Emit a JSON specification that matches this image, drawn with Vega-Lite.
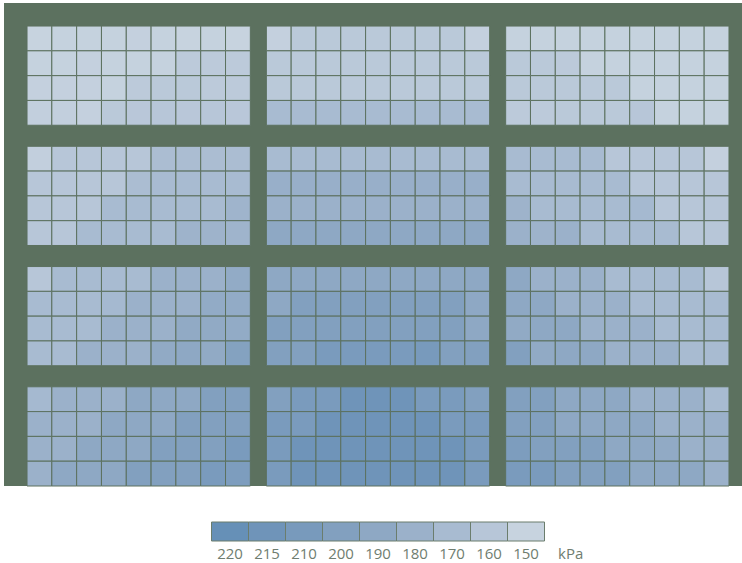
{
  "$schema": "https://vega.github.io/schema/vega-lite/v6.json",
  "padding": {"left": 4, "top": 3, "right": 0, "bottom": 0},
  "background": "white",
  "spacing": 36,
  "center": true,
  "bounds": "flush",
  "config": {"view": {"stroke": null}, "font": "Open Sans"},
  "datasets": {
    "cells": [
      {"R":1,"C":1,"r":1,"c":1,"v":150},{"R":1,"C":1,"r":1,"c":2,"v":151},{"R":1,"C":1,"r":1,"c":3,"v":151},{"R":1,"C":1,"r":1,"c":4,"v":151},{"R":1,"C":1,"r":1,"c":5,"v":152},{"R":1,"C":1,"r":1,"c":6,"v":151},{"R":1,"C":1,"r":1,"c":7,"v":150},{"R":1,"C":1,"r":1,"c":8,"v":151},{"R":1,"C":1,"r":1,"c":9,"v":150},
      {"R":1,"C":1,"r":2,"c":1,"v":151},{"R":1,"C":1,"r":2,"c":2,"v":151},{"R":1,"C":1,"r":2,"c":3,"v":152},{"R":1,"C":1,"r":2,"c":4,"v":151},{"R":1,"C":1,"r":2,"c":5,"v":151},{"R":1,"C":1,"r":2,"c":6,"v":151},{"R":1,"C":1,"r":2,"c":7,"v":157},{"R":1,"C":1,"r":2,"c":8,"v":157},{"R":1,"C":1,"r":2,"c":9,"v":157},
      {"R":1,"C":1,"r":3,"c":1,"v":152},{"R":1,"C":1,"r":3,"c":2,"v":152},{"R":1,"C":1,"r":3,"c":3,"v":152},{"R":1,"C":1,"r":3,"c":4,"v":151},{"R":1,"C":1,"r":3,"c":5,"v":157},{"R":1,"C":1,"r":3,"c":6,"v":158},{"R":1,"C":1,"r":3,"c":7,"v":158},{"R":1,"C":1,"r":3,"c":8,"v":157},{"R":1,"C":1,"r":3,"c":9,"v":157},
      {"R":1,"C":1,"r":4,"c":1,"v":153},{"R":1,"C":1,"r":4,"c":2,"v":153},{"R":1,"C":1,"r":4,"c":3,"v":152},{"R":1,"C":1,"r":4,"c":4,"v":158},{"R":1,"C":1,"r":4,"c":5,"v":159},{"R":1,"C":1,"r":4,"c":6,"v":160},{"R":1,"C":1,"r":4,"c":7,"v":159},{"R":1,"C":1,"r":4,"c":8,"v":160},{"R":1,"C":1,"r":4,"c":9,"v":159},

      {"R":1,"C":2,"r":1,"c":1,"v":152},{"R":1,"C":2,"r":1,"c":2,"v":158},{"R":1,"C":2,"r":1,"c":3,"v":158},{"R":1,"C":2,"r":1,"c":4,"v":158},{"R":1,"C":2,"r":1,"c":5,"v":158},{"R":1,"C":2,"r":1,"c":6,"v":158},{"R":1,"C":2,"r":1,"c":7,"v":158},{"R":1,"C":2,"r":1,"c":8,"v":158},{"R":1,"C":2,"r":1,"c":9,"v":152},
      {"R":1,"C":2,"r":2,"c":1,"v":158},{"R":1,"C":2,"r":2,"c":2,"v":158},{"R":1,"C":2,"r":2,"c":3,"v":158},{"R":1,"C":2,"r":2,"c":4,"v":158},{"R":1,"C":2,"r":2,"c":5,"v":158},{"R":1,"C":2,"r":2,"c":6,"v":158},{"R":1,"C":2,"r":2,"c":7,"v":158},{"R":1,"C":2,"r":2,"c":8,"v":158},{"R":1,"C":2,"r":2,"c":9,"v":158},
      {"R":1,"C":2,"r":3,"c":1,"v":158},{"R":1,"C":2,"r":3,"c":2,"v":158},{"R":1,"C":2,"r":3,"c":3,"v":158},{"R":1,"C":2,"r":3,"c":4,"v":158},{"R":1,"C":2,"r":3,"c":5,"v":158},{"R":1,"C":2,"r":3,"c":6,"v":158},{"R":1,"C":2,"r":3,"c":7,"v":158},{"R":1,"C":2,"r":3,"c":8,"v":158},{"R":1,"C":2,"r":3,"c":9,"v":158},
      {"R":1,"C":2,"r":4,"c":1,"v":170},{"R":1,"C":2,"r":4,"c":2,"v":170},{"R":1,"C":2,"r":4,"c":3,"v":170},{"R":1,"C":2,"r":4,"c":4,"v":170},{"R":1,"C":2,"r":4,"c":5,"v":170},{"R":1,"C":2,"r":4,"c":6,"v":170},{"R":1,"C":2,"r":4,"c":7,"v":170},{"R":1,"C":2,"r":4,"c":8,"v":170},{"R":1,"C":2,"r":4,"c":9,"v":170},

      {"R":1,"C":3,"r":1,"c":1,"v":151},{"R":1,"C":3,"r":1,"c":2,"v":151},{"R":1,"C":3,"r":1,"c":3,"v":151},{"R":1,"C":3,"r":1,"c":4,"v":151},{"R":1,"C":3,"r":1,"c":5,"v":151},{"R":1,"C":3,"r":1,"c":6,"v":151},{"R":1,"C":3,"r":1,"c":7,"v":151},{"R":1,"C":3,"r":1,"c":8,"v":151},{"R":1,"C":3,"r":1,"c":9,"v":151},
      {"R":1,"C":3,"r":2,"c":1,"v":158},{"R":1,"C":3,"r":2,"c":2,"v":158},{"R":1,"C":3,"r":2,"c":3,"v":157},{"R":1,"C":3,"r":2,"c":4,"v":151},{"R":1,"C":3,"r":2,"c":5,"v":151},{"R":1,"C":3,"r":2,"c":6,"v":151},{"R":1,"C":3,"r":2,"c":7,"v":151},{"R":1,"C":3,"r":2,"c":8,"v":151},{"R":1,"C":3,"r":2,"c":9,"v":151},
      {"R":1,"C":3,"r":3,"c":1,"v":158},{"R":1,"C":3,"r":3,"c":2,"v":158},{"R":1,"C":3,"r":3,"c":3,"v":158},{"R":1,"C":3,"r":3,"c":4,"v":158},{"R":1,"C":3,"r":3,"c":5,"v":158},{"R":1,"C":3,"r":3,"c":6,"v":151},{"R":1,"C":3,"r":3,"c":7,"v":151},{"R":1,"C":3,"r":3,"c":8,"v":151},{"R":1,"C":3,"r":3,"c":9,"v":151},
      {"R":1,"C":3,"r":4,"c":1,"v":157},{"R":1,"C":3,"r":4,"c":2,"v":157},{"R":1,"C":3,"r":4,"c":3,"v":158},{"R":1,"C":3,"r":4,"c":4,"v":158},{"R":1,"C":3,"r":4,"c":5,"v":158},{"R":1,"C":3,"r":4,"c":6,"v":160},{"R":1,"C":3,"r":4,"c":7,"v":151},{"R":1,"C":3,"r":4,"c":8,"v":151},{"R":1,"C":3,"r":4,"c":9,"v":151},

      {"R":2,"C":1,"r":1,"c":1,"v":153},{"R":2,"C":1,"r":1,"c":2,"v":160},{"R":2,"C":1,"r":1,"c":3,"v":160},{"R":2,"C":1,"r":1,"c":4,"v":160},{"R":2,"C":1,"r":1,"c":5,"v":160},{"R":2,"C":1,"r":1,"c":6,"v":168},{"R":2,"C":1,"r":1,"c":7,"v":168},{"R":2,"C":1,"r":1,"c":8,"v":168},{"R":2,"C":1,"r":1,"c":9,"v":168},
      {"R":2,"C":1,"r":2,"c":1,"v":160},{"R":2,"C":1,"r":2,"c":2,"v":160},{"R":2,"C":1,"r":2,"c":3,"v":160},{"R":2,"C":1,"r":2,"c":4,"v":160},{"R":2,"C":1,"r":2,"c":5,"v":168},{"R":2,"C":1,"r":2,"c":6,"v":170},{"R":2,"C":1,"r":2,"c":7,"v":170},{"R":2,"C":1,"r":2,"c":8,"v":170},{"R":2,"C":1,"r":2,"c":9,"v":170},
      {"R":2,"C":1,"r":3,"c":1,"v":160},{"R":2,"C":1,"r":3,"c":2,"v":160},{"R":2,"C":1,"r":3,"c":3,"v":160},{"R":2,"C":1,"r":3,"c":4,"v":170},{"R":2,"C":1,"r":3,"c":5,"v":170},{"R":2,"C":1,"r":3,"c":6,"v":170},{"R":2,"C":1,"r":3,"c":7,"v":170},{"R":2,"C":1,"r":3,"c":8,"v":170},{"R":2,"C":1,"r":3,"c":9,"v":177},
      {"R":2,"C":1,"r":4,"c":1,"v":160},{"R":2,"C":1,"r":4,"c":2,"v":160},{"R":2,"C":1,"r":4,"c":3,"v":170},{"R":2,"C":1,"r":4,"c":4,"v":170},{"R":2,"C":1,"r":4,"c":5,"v":170},{"R":2,"C":1,"r":4,"c":6,"v":170},{"R":2,"C":1,"r":4,"c":7,"v":178},{"R":2,"C":1,"r":4,"c":8,"v":178},{"R":2,"C":1,"r":4,"c":9,"v":177},

      {"R":2,"C":2,"r":1,"c":1,"v":170},{"R":2,"C":2,"r":1,"c":2,"v":170},{"R":2,"C":2,"r":1,"c":3,"v":170},{"R":2,"C":2,"r":1,"c":4,"v":170},{"R":2,"C":2,"r":1,"c":5,"v":170},{"R":2,"C":2,"r":1,"c":6,"v":170},{"R":2,"C":2,"r":1,"c":7,"v":170},{"R":2,"C":2,"r":1,"c":8,"v":170},{"R":2,"C":2,"r":1,"c":9,"v":170},
      {"R":2,"C":2,"r":2,"c":1,"v":182},{"R":2,"C":2,"r":2,"c":2,"v":182},{"R":2,"C":2,"r":2,"c":3,"v":182},{"R":2,"C":2,"r":2,"c":4,"v":182},{"R":2,"C":2,"r":2,"c":5,"v":182},{"R":2,"C":2,"r":2,"c":6,"v":182},{"R":2,"C":2,"r":2,"c":7,"v":182},{"R":2,"C":2,"r":2,"c":8,"v":182},{"R":2,"C":2,"r":2,"c":9,"v":182},
      {"R":2,"C":2,"r":3,"c":1,"v":180},{"R":2,"C":2,"r":3,"c":2,"v":180},{"R":2,"C":2,"r":3,"c":3,"v":180},{"R":2,"C":2,"r":3,"c":4,"v":180},{"R":2,"C":2,"r":3,"c":5,"v":180},{"R":2,"C":2,"r":3,"c":6,"v":180},{"R":2,"C":2,"r":3,"c":7,"v":180},{"R":2,"C":2,"r":3,"c":8,"v":180},{"R":2,"C":2,"r":3,"c":9,"v":180},
      {"R":2,"C":2,"r":4,"c":1,"v":190},{"R":2,"C":2,"r":4,"c":2,"v":190},{"R":2,"C":2,"r":4,"c":3,"v":190},{"R":2,"C":2,"r":4,"c":4,"v":190},{"R":2,"C":2,"r":4,"c":5,"v":190},{"R":2,"C":2,"r":4,"c":6,"v":190},{"R":2,"C":2,"r":4,"c":7,"v":190},{"R":2,"C":2,"r":4,"c":8,"v":190},{"R":2,"C":2,"r":4,"c":9,"v":190},

      {"R":2,"C":3,"r":1,"c":1,"v":170},{"R":2,"C":3,"r":1,"c":2,"v":170},{"R":2,"C":3,"r":1,"c":3,"v":170},{"R":2,"C":3,"r":1,"c":4,"v":170},{"R":2,"C":3,"r":1,"c":5,"v":160},{"R":2,"C":3,"r":1,"c":6,"v":160},{"R":2,"C":3,"r":1,"c":7,"v":160},{"R":2,"C":3,"r":1,"c":8,"v":160},{"R":2,"C":3,"r":1,"c":9,"v":152},
      {"R":2,"C":3,"r":2,"c":1,"v":170},{"R":2,"C":3,"r":2,"c":2,"v":170},{"R":2,"C":3,"r":2,"c":3,"v":170},{"R":2,"C":3,"r":2,"c":4,"v":170},{"R":2,"C":3,"r":2,"c":5,"v":170},{"R":2,"C":3,"r":2,"c":6,"v":160},{"R":2,"C":3,"r":2,"c":7,"v":160},{"R":2,"C":3,"r":2,"c":8,"v":160},{"R":2,"C":3,"r":2,"c":9,"v":160},
      {"R":2,"C":3,"r":3,"c":1,"v":178},{"R":2,"C":3,"r":3,"c":2,"v":170},{"R":2,"C":3,"r":3,"c":3,"v":170},{"R":2,"C":3,"r":3,"c":4,"v":170},{"R":2,"C":3,"r":3,"c":5,"v":170},{"R":2,"C":3,"r":3,"c":6,"v":172},{"R":2,"C":3,"r":3,"c":7,"v":160},{"R":2,"C":3,"r":3,"c":8,"v":160},{"R":2,"C":3,"r":3,"c":9,"v":160},
      {"R":2,"C":3,"r":4,"c":1,"v":180},{"R":2,"C":3,"r":4,"c":2,"v":178},{"R":2,"C":3,"r":4,"c":3,"v":180},{"R":2,"C":3,"r":4,"c":4,"v":170},{"R":2,"C":3,"r":4,"c":5,"v":170},{"R":2,"C":3,"r":4,"c":6,"v":170},{"R":2,"C":3,"r":4,"c":7,"v":170},{"R":2,"C":3,"r":4,"c":8,"v":160},{"R":2,"C":3,"r":4,"c":9,"v":160},

      {"R":3,"C":1,"r":1,"c":1,"v":160},{"R":3,"C":1,"r":1,"c":2,"v":170},{"R":3,"C":1,"r":1,"c":3,"v":170},{"R":3,"C":1,"r":1,"c":4,"v":170},{"R":3,"C":1,"r":1,"c":5,"v":170},{"R":3,"C":1,"r":1,"c":6,"v":180},{"R":3,"C":1,"r":1,"c":7,"v":180},{"R":3,"C":1,"r":1,"c":8,"v":180},{"R":3,"C":1,"r":1,"c":9,"v":187},
      {"R":3,"C":1,"r":2,"c":1,"v":170},{"R":3,"C":1,"r":2,"c":2,"v":170},{"R":3,"C":1,"r":2,"c":3,"v":170},{"R":3,"C":1,"r":2,"c":4,"v":172},{"R":3,"C":1,"r":2,"c":5,"v":180},{"R":3,"C":1,"r":2,"c":6,"v":180},{"R":3,"C":1,"r":2,"c":7,"v":180},{"R":3,"C":1,"r":2,"c":8,"v":187},{"R":3,"C":1,"r":2,"c":9,"v":187},
      {"R":3,"C":1,"r":3,"c":1,"v":170},{"R":3,"C":1,"r":3,"c":2,"v":170},{"R":3,"C":1,"r":3,"c":3,"v":170},{"R":3,"C":1,"r":3,"c":4,"v":180},{"R":3,"C":1,"r":3,"c":5,"v":180},{"R":3,"C":1,"r":3,"c":6,"v":180},{"R":3,"C":1,"r":3,"c":7,"v":188},{"R":3,"C":1,"r":3,"c":8,"v":188},{"R":3,"C":1,"r":3,"c":9,"v":187},
      {"R":3,"C":1,"r":4,"c":1,"v":170},{"R":3,"C":1,"r":4,"c":2,"v":170},{"R":3,"C":1,"r":4,"c":3,"v":180},{"R":3,"C":1,"r":4,"c":4,"v":180},{"R":3,"C":1,"r":4,"c":5,"v":180},{"R":3,"C":1,"r":4,"c":6,"v":188},{"R":3,"C":1,"r":4,"c":7,"v":190},{"R":3,"C":1,"r":4,"c":8,"v":188},{"R":3,"C":1,"r":4,"c":9,"v":198},

      {"R":3,"C":2,"r":1,"c":1,"v":190},{"R":3,"C":2,"r":1,"c":2,"v":190},{"R":3,"C":2,"r":1,"c":3,"v":190},{"R":3,"C":2,"r":1,"c":4,"v":190},{"R":3,"C":2,"r":1,"c":5,"v":190},{"R":3,"C":2,"r":1,"c":6,"v":190},{"R":3,"C":2,"r":1,"c":7,"v":190},{"R":3,"C":2,"r":1,"c":8,"v":190},{"R":3,"C":2,"r":1,"c":9,"v":190},
      {"R":3,"C":2,"r":2,"c":1,"v":190},{"R":3,"C":2,"r":2,"c":2,"v":200},{"R":3,"C":2,"r":2,"c":3,"v":200},{"R":3,"C":2,"r":2,"c":4,"v":200},{"R":3,"C":2,"r":2,"c":5,"v":200},{"R":3,"C":2,"r":2,"c":6,"v":200},{"R":3,"C":2,"r":2,"c":7,"v":200},{"R":3,"C":2,"r":2,"c":8,"v":200},{"R":3,"C":2,"r":2,"c":9,"v":190},
      {"R":3,"C":2,"r":3,"c":1,"v":200},{"R":3,"C":2,"r":3,"c":2,"v":200},{"R":3,"C":2,"r":3,"c":3,"v":200},{"R":3,"C":2,"r":3,"c":4,"v":200},{"R":3,"C":2,"r":3,"c":5,"v":200},{"R":3,"C":2,"r":3,"c":6,"v":200},{"R":3,"C":2,"r":3,"c":7,"v":200},{"R":3,"C":2,"r":3,"c":8,"v":200},{"R":3,"C":2,"r":3,"c":9,"v":190},
      {"R":3,"C":2,"r":4,"c":1,"v":200},{"R":3,"C":2,"r":4,"c":2,"v":200},{"R":3,"C":2,"r":4,"c":3,"v":208},{"R":3,"C":2,"r":4,"c":4,"v":208},{"R":3,"C":2,"r":4,"c":5,"v":208},{"R":3,"C":2,"r":4,"c":6,"v":208},{"R":3,"C":2,"r":4,"c":7,"v":210},{"R":3,"C":2,"r":4,"c":8,"v":200},{"R":3,"C":2,"r":4,"c":9,"v":200},

      {"R":3,"C":3,"r":1,"c":1,"v":190},{"R":3,"C":3,"r":1,"c":2,"v":180},{"R":3,"C":3,"r":1,"c":3,"v":180},{"R":3,"C":3,"r":1,"c":4,"v":180},{"R":3,"C":3,"r":1,"c":5,"v":170},{"R":3,"C":3,"r":1,"c":6,"v":170},{"R":3,"C":3,"r":1,"c":7,"v":170},{"R":3,"C":3,"r":1,"c":8,"v":170},{"R":3,"C":3,"r":1,"c":9,"v":160},
      {"R":3,"C":3,"r":2,"c":1,"v":190},{"R":3,"C":3,"r":2,"c":2,"v":190},{"R":3,"C":3,"r":2,"c":3,"v":180},{"R":3,"C":3,"r":2,"c":4,"v":180},{"R":3,"C":3,"r":2,"c":5,"v":180},{"R":3,"C":3,"r":2,"c":6,"v":170},{"R":3,"C":3,"r":2,"c":7,"v":170},{"R":3,"C":3,"r":2,"c":8,"v":170},{"R":3,"C":3,"r":2,"c":9,"v":170},
      {"R":3,"C":3,"r":3,"c":1,"v":188},{"R":3,"C":3,"r":3,"c":2,"v":190},{"R":3,"C":3,"r":3,"c":3,"v":190},{"R":3,"C":3,"r":3,"c":4,"v":180},{"R":3,"C":3,"r":3,"c":5,"v":180},{"R":3,"C":3,"r":3,"c":6,"v":180},{"R":3,"C":3,"r":3,"c":7,"v":170},{"R":3,"C":3,"r":3,"c":8,"v":170},{"R":3,"C":3,"r":3,"c":9,"v":170},
      {"R":3,"C":3,"r":4,"c":1,"v":200},{"R":3,"C":3,"r":4,"c":2,"v":188},{"R":3,"C":3,"r":4,"c":3,"v":190},{"R":3,"C":3,"r":4,"c":4,"v":190},{"R":3,"C":3,"r":4,"c":5,"v":180},{"R":3,"C":3,"r":4,"c":6,"v":180},{"R":3,"C":3,"r":4,"c":7,"v":180},{"R":3,"C":3,"r":4,"c":8,"v":170},{"R":3,"C":3,"r":4,"c":9,"v":170},

      {"R":4,"C":1,"r":1,"c":1,"v":172},{"R":4,"C":1,"r":1,"c":2,"v":180},{"R":4,"C":1,"r":1,"c":3,"v":180},{"R":4,"C":1,"r":1,"c":4,"v":180},{"R":4,"C":1,"r":1,"c":5,"v":190},{"R":4,"C":1,"r":1,"c":6,"v":190},{"R":4,"C":1,"r":1,"c":7,"v":190},{"R":4,"C":1,"r":1,"c":8,"v":200},{"R":4,"C":1,"r":1,"c":9,"v":200},
      {"R":4,"C":1,"r":2,"c":1,"v":180},{"R":4,"C":1,"r":2,"c":2,"v":180},{"R":4,"C":1,"r":2,"c":3,"v":180},{"R":4,"C":1,"r":2,"c":4,"v":190},{"R":4,"C":1,"r":2,"c":5,"v":190},{"R":4,"C":1,"r":2,"c":6,"v":190},{"R":4,"C":1,"r":2,"c":7,"v":200},{"R":4,"C":1,"r":2,"c":8,"v":200},{"R":4,"C":1,"r":2,"c":9,"v":200},
      {"R":4,"C":1,"r":3,"c":1,"v":180},{"R":4,"C":1,"r":3,"c":2,"v":180},{"R":4,"C":1,"r":3,"c":3,"v":190},{"R":4,"C":1,"r":3,"c":4,"v":190},{"R":4,"C":1,"r":3,"c":5,"v":190},{"R":4,"C":1,"r":3,"c":6,"v":200},{"R":4,"C":1,"r":3,"c":7,"v":200},{"R":4,"C":1,"r":3,"c":8,"v":200},{"R":4,"C":1,"r":3,"c":9,"v":208},
      {"R":4,"C":1,"r":4,"c":1,"v":180},{"R":4,"C":1,"r":4,"c":2,"v":190},{"R":4,"C":1,"r":4,"c":3,"v":190},{"R":4,"C":1,"r":4,"c":4,"v":190},{"R":4,"C":1,"r":4,"c":5,"v":200},{"R":4,"C":1,"r":4,"c":6,"v":200},{"R":4,"C":1,"r":4,"c":7,"v":200},{"R":4,"C":1,"r":4,"c":8,"v":208},{"R":4,"C":1,"r":4,"c":9,"v":205},

      {"R":4,"C":2,"r":1,"c":1,"v":200},{"R":4,"C":2,"r":1,"c":2,"v":208},{"R":4,"C":2,"r":1,"c":3,"v":208},{"R":4,"C":2,"r":1,"c":4,"v":215},{"R":4,"C":2,"r":1,"c":5,"v":215},{"R":4,"C":2,"r":1,"c":6,"v":215},{"R":4,"C":2,"r":1,"c":7,"v":208},{"R":4,"C":2,"r":1,"c":8,"v":208},{"R":4,"C":2,"r":1,"c":9,"v":200},
      {"R":4,"C":2,"r":2,"c":1,"v":208},{"R":4,"C":2,"r":2,"c":2,"v":208},{"R":4,"C":2,"r":2,"c":3,"v":215},{"R":4,"C":2,"r":2,"c":4,"v":215},{"R":4,"C":2,"r":2,"c":5,"v":215},{"R":4,"C":2,"r":2,"c":6,"v":215},{"R":4,"C":2,"r":2,"c":7,"v":215},{"R":4,"C":2,"r":2,"c":8,"v":208},{"R":4,"C":2,"r":2,"c":9,"v":208},
      {"R":4,"C":2,"r":3,"c":1,"v":208},{"R":4,"C":2,"r":3,"c":2,"v":215},{"R":4,"C":2,"r":3,"c":3,"v":215},{"R":4,"C":2,"r":3,"c":4,"v":215},{"R":4,"C":2,"r":3,"c":5,"v":215},{"R":4,"C":2,"r":3,"c":6,"v":215},{"R":4,"C":2,"r":3,"c":7,"v":215},{"R":4,"C":2,"r":3,"c":8,"v":215},{"R":4,"C":2,"r":3,"c":9,"v":208},
      {"R":4,"C":2,"r":4,"c":1,"v":208},{"R":4,"C":2,"r":4,"c":2,"v":215},{"R":4,"C":2,"r":4,"c":3,"v":215},{"R":4,"C":2,"r":4,"c":4,"v":215},{"R":4,"C":2,"r":4,"c":5,"v":215},{"R":4,"C":2,"r":4,"c":6,"v":215},{"R":4,"C":2,"r":4,"c":7,"v":215},{"R":4,"C":2,"r":4,"c":8,"v":215},{"R":4,"C":2,"r":4,"c":9,"v":208},

      {"R":4,"C":3,"r":1,"c":1,"v":200},{"R":4,"C":3,"r":1,"c":2,"v":200},{"R":4,"C":3,"r":1,"c":3,"v":190},{"R":4,"C":3,"r":1,"c":4,"v":190},{"R":4,"C":3,"r":1,"c":5,"v":190},{"R":4,"C":3,"r":1,"c":6,"v":180},{"R":4,"C":3,"r":1,"c":7,"v":180},{"R":4,"C":3,"r":1,"c":8,"v":180},{"R":4,"C":3,"r":1,"c":9,"v":170},
      {"R":4,"C":3,"r":2,"c":1,"v":200},{"R":4,"C":3,"r":2,"c":2,"v":200},{"R":4,"C":3,"r":2,"c":3,"v":190},{"R":4,"C":3,"r":2,"c":4,"v":190},{"R":4,"C":3,"r":2,"c":5,"v":190},{"R":4,"C":3,"r":2,"c":6,"v":190},{"R":4,"C":3,"r":2,"c":7,"v":180},{"R":4,"C":3,"r":2,"c":8,"v":180},{"R":4,"C":3,"r":2,"c":9,"v":180},
      {"R":4,"C":3,"r":3,"c":1,"v":205},{"R":4,"C":3,"r":3,"c":2,"v":200},{"R":4,"C":3,"r":3,"c":3,"v":200},{"R":4,"C":3,"r":3,"c":4,"v":200},{"R":4,"C":3,"r":3,"c":5,"v":190},{"R":4,"C":3,"r":3,"c":6,"v":190},{"R":4,"C":3,"r":3,"c":7,"v":188},{"R":4,"C":3,"r":3,"c":8,"v":180},{"R":4,"C":3,"r":3,"c":9,"v":180},
      {"R":4,"C":3,"r":4,"c":1,"v":208},{"R":4,"C":3,"r":4,"c":2,"v":208},{"R":4,"C":3,"r":4,"c":3,"v":200},{"R":4,"C":3,"r":4,"c":4,"v":200},{"R":4,"C":3,"r":4,"c":5,"v":200},{"R":4,"C":3,"r":4,"c":6,"v":190},{"R":4,"C":3,"r":4,"c":7,"v":190},{"R":4,"C":3,"r":4,"c":8,"v":190},{"R":4,"C":3,"r":4,"c":9,"v":180}
    ],
    "legend": [
      {"v": 220}, {"v": 215}, {"v": 210}, {"v": 200}, {"v": 190},
      {"v": 180}, {"v": 170}, {"v": 160}, {"v": 150}
    ]
  },
  "vconcat": [
    {
      "data": {"name": "cells"},
      "width": 748,
      "height": 483,
      "view": {"fill": "#5c715f", "stroke": null},
      "mark": {"type": "rect", "stroke": "#5c715f", "strokeWidth": 1},
      "encoding": {
        "x": {"field": "C", "type": "ordinal", "axis": null,
              "scale": {"paddingInner": 0.0669, "paddingOuter": 0.0962}},
        "xOffset": {"field": "c", "type": "ordinal",
              "scale": {"paddingInner": 0, "paddingOuter": 0}},
        "y": {"field": "R", "type": "ordinal", "axis": null,
              "scale": {"paddingInner": 0.175, "paddingOuter": 0.0958, "align": 1}},
        "yOffset": {"field": "r", "type": "ordinal",
              "scale": {"paddingInner": 0, "paddingOuter": 0}},
        "color": {"field": "v", "type": "quantitative", "legend": null,
              "scale": {"domain": [150, 160, 170, 180, 190, 200, 210, 215, 220],
                        "range": ["#c7d3df", "#b7c6d8", "#a8bbd1", "#9bb1ca", "#8ea8c4", "#82a0bf", "#789abc", "#6f94b9", "#6690b7"],
                        "clamp": true}}
      }
    },
    {
      "data": {"name": "legend"},
      "width": 333,
      "height": 19,
      "mark": {"type": "rect", "stroke": "#6b7d6d", "strokeWidth": 1},
      "encoding": {
        "x": {"field": "v", "type": "ordinal", "sort": "descending",
              "scale": {"paddingInner": 0, "paddingOuter": 0},
              "axis": {"orient": "bottom", "domain": false, "ticks": false, "labelAngle": 0,
                       "labelFont": "Open Sans", "labelFontSize": 15, "labelColor": "#6f7d70", "labelPadding": 5,
                       "title": "kPa", "titleFont": "Open Sans", "titleFontSize": 15, "titleFontWeight": "normal",
                       "titleColor": "#6f7d70", "titleX": 346, "titleY": 5, "titleAlign": "left", "titleBaseline": "top", "titleAngle": 0}},
        "color": {"field": "v", "type": "quantitative", "legend": null}
      }
    }
  ]
}
